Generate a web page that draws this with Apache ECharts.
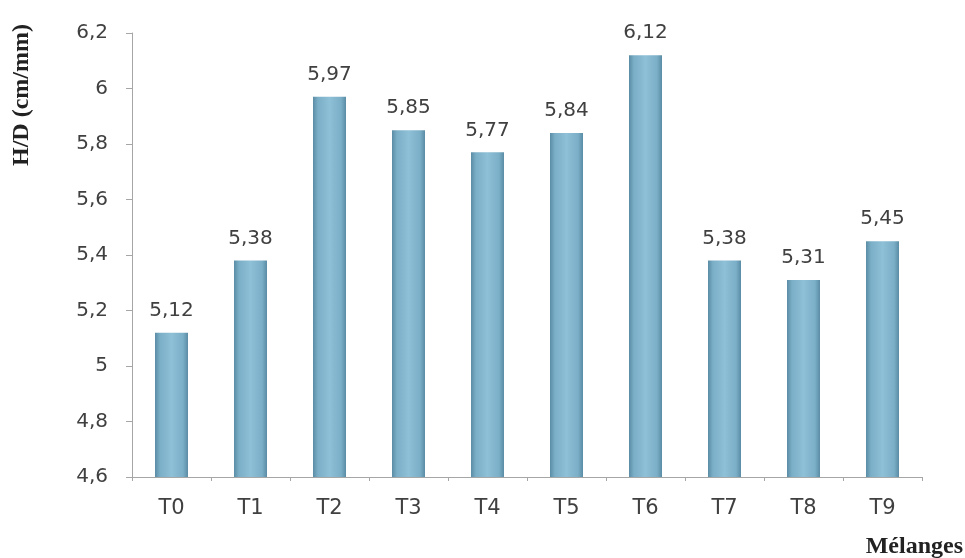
<!DOCTYPE html>
<html><head><meta charset="utf-8">
<script src="https://cdn.jsdelivr.net/npm/echarts@6/dist/echarts.min.js"></script>
<style>html,body{margin:0;padding:0;background:#fff}#c{width:965px;height:558px}</style>
</head><body><div id="c"></div>
<script>
const categories = ['T0','T1','T2','T3','T4','T5','T6','T7','T8','T9'];
const values = [5.12, 5.38, 5.97, 5.85, 5.77, 5.84, 6.12, 5.38, 5.31, 5.45];
const yTicks = {min: 4.6, max: 6.2, interval: 0.2};
const yTitle = 'H/D (cm/mm)';
const xTitle = 'Mélanges';

const fmt = v => String(+(+v).toFixed(2)).replace('.', ',');
const chart = echarts.init(document.getElementById('c'));
chart.setOption({
  animation: false,
  grid: {left: 132, right: 43, top: 33, bottom: 81},
  xAxis: {
    type: 'category', data: categories,
    axisLine: {lineStyle: {color: '#a6a6a6', width: 1}},
    axisTick: {show: true, length: 4, lineStyle: {color: '#a6a6a6'}},
    axisLabel: {margin: 21, fontFamily: 'DejaVu Sans', fontSize: 21, color: '#404040'}
  },
  yAxis: {
    type: 'value', min: yTicks.min, max: yTicks.max, interval: yTicks.interval,
    splitLine: {show: false},
    axisLine: {show: true, lineStyle: {color: '#a6a6a6', width: 1}},
    axisTick: {show: true, length: 6, lineStyle: {color: '#a6a6a6'}},
    axisLabel: {margin: 24, fontFamily: 'DejaVu Sans', fontSize: 20, color: '#404040',
      formatter: v => String(+(+v).toFixed(1)).replace('.', ',')}
  },
  series: [{
    type: 'bar', data: values, barWidth: 33,
    itemStyle: {
      color: new echarts.graphic.LinearGradient(0, 0, 1, 0, [
        {offset: 0, color: '#5a8da5'},
        {offset: 0.15, color: '#7bafc7'},
        {offset: 0.5, color: '#8ec0d7'},
        {offset: 0.85, color: '#7bafc7'},
        {offset: 1, color: '#5a8da5'}
      ])
    },
    label: {show: true, position: 'top', distance: 12, fontFamily: 'DejaVu Sans', fontSize: 20,
      color: '#404040', formatter: p => fmt(p.value)}
  }],
  graphic: [
    {type: 'text', x: 22, y: 95, rotation: Math.PI / 2,
      style: {text: yTitle, font: 'bold 24px "Liberation Serif", serif', fill: '#222',
        textAlign: 'center', textVerticalAlign: 'middle'}},
    {type: 'text', x: 963, y: 547,
      style: {text: xTitle, font: 'bold 24px "Liberation Serif", serif', fill: '#222',
        textAlign: 'right', textVerticalAlign: 'middle'}}
  ]
});
</script></body></html>
